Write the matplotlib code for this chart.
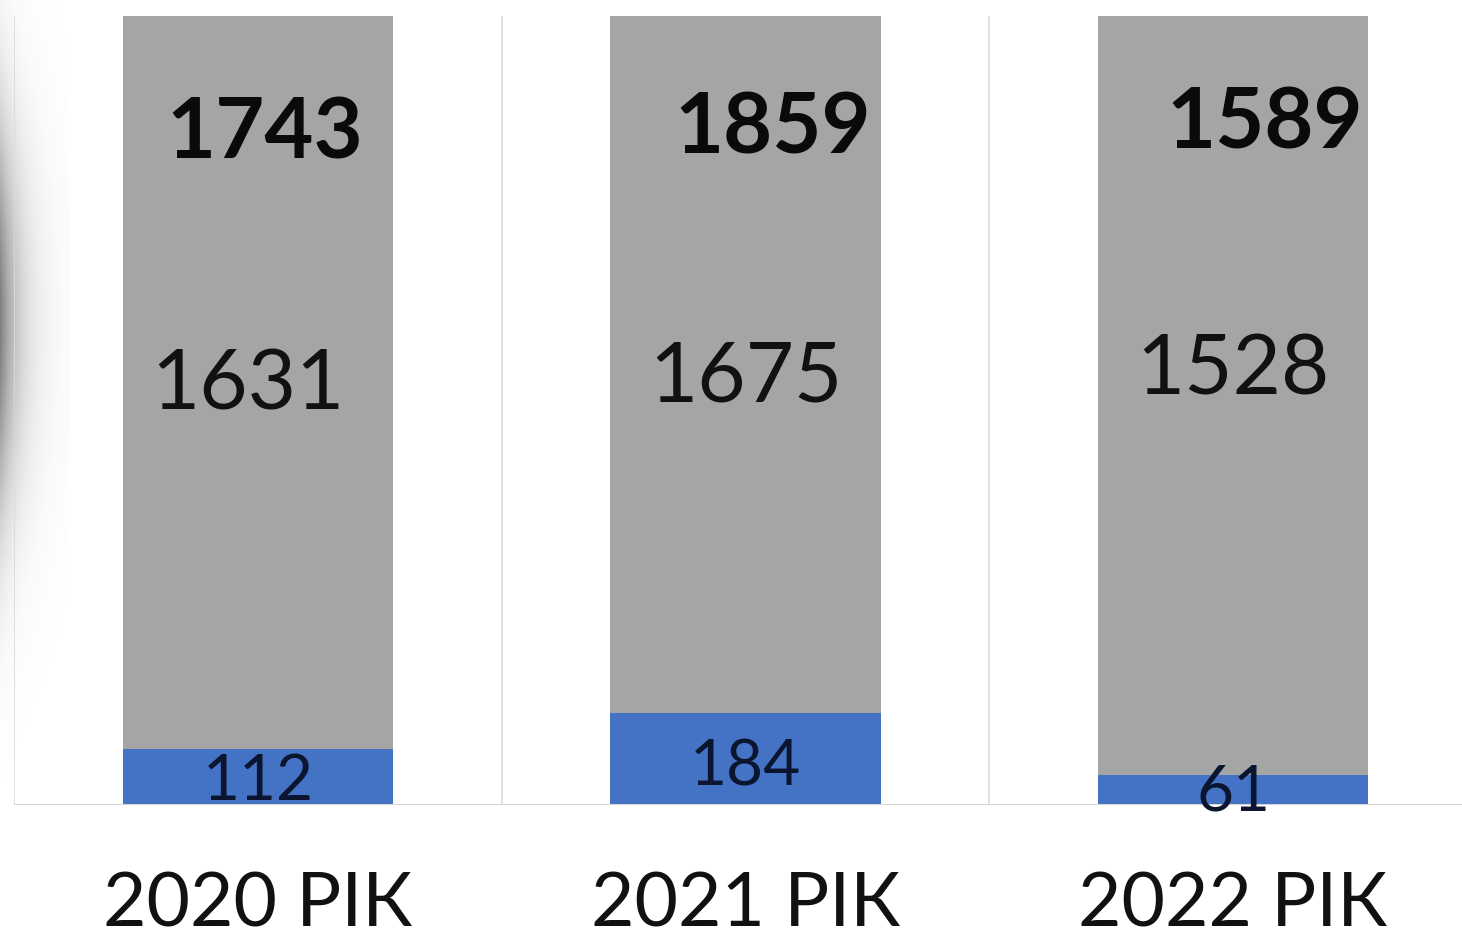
import numpy as np
import matplotlib
matplotlib.use("Agg")
import matplotlib.pyplot as plt

categories = ["2020 РІК", "2021 РІК", "2022 РІК"]
blue_values = [112, 184, 61]
gray_values = [1631, 1675, 1528]
totals = [1743, 1859, 1589]

plt.rcParams['font.family'] = ['Lato', 'Open Sans', 'DejaVu Sans']

W, H = 1462, 942
fig = plt.figure(figsize=(W / 100, H / 100), dpi=100)
fig.patch.set_facecolor('white')

def fx(px):
    return px / W

def fy(py):
    return 1 - py / H

# photo shadow on the left edge (decoration)
sh = fig.add_axes([0, 0, fx(70), 1], zorder=0)
xs = np.linspace(0, 70, 70)
ys = np.linspace(0, H, 300)
X, Y = np.meshgrid(xs, ys)
inten = np.exp(-X / 20.0) * np.exp(-((Y - 320) / 200.0) ** 2)
rgba = np.zeros(X.shape + (4,))
rgba[..., :3] = 0.38
rgba[..., 3] = np.clip(inten * 0.8, 0, 1)
sh.imshow(rgba, aspect='auto', extent=[0, 1, 0, 1], origin='upper')
sh.axis('off')

left_px, right_px = 14, 1477
base_px, top_px = 805, 16
ax = fig.add_axes([fx(left_px), fy(base_px), (right_px - left_px) / W, (base_px - top_px) / H], zorder=1)
ax.patch.set_alpha(0)

x = np.arange(len(categories))
bw = 0.555
ax.bar(x, blue_values, width=bw, color='#4472C4', zorder=2)
ax.bar(x, gray_values, width=bw, bottom=blue_values, color='#A5A5A5', zorder=2)

ax.set_xlim(-0.5, len(categories) - 0.5)
ax.set_ylim(0, 1580)

for b in np.arange(-0.5, len(categories), 1.0):
    ax.axvline(b, color='#DADADA', lw=1.2, zorder=1)
ax.axhline(0, color='#D4D4D4', lw=1.5, zorder=3)

for s in ax.spines.values():
    s.set_visible(False)
ax.set_yticks([])
ax.set_xticks(x)
ax.set_xticklabels(categories, fontsize=54, color='#111111')
ax.tick_params(axis='x', length=0, pad=47)

# label placement: (x offset in data units, y in axes fraction) -- style only
tot_pos = [(0.015, 0.85), (0.055, 0.857), (0.065, 0.863)]
gray_pos = [(-0.02, 0.53), (0.0, 0.54), (0.0, 0.55)]
blue_pos = [(0.0, 0.029), (0.0, 0.047), (0.0, 0.016)]
for i in range(len(categories)):
    ax.annotate(str(totals[i]), xy=(x[i] + tot_pos[i][0], tot_pos[i][1]),
                xycoords=('data', 'axes fraction'), ha='center', va='center',
                fontsize=61, fontweight='bold', color='#0A0A0A', zorder=4)
    ax.annotate(str(gray_values[i]), xy=(x[i] + gray_pos[i][0], gray_pos[i][1]),
                xycoords=('data', 'axes fraction'), ha='center', va='center',
                fontsize=60, color='#111111', zorder=4)
    ax.annotate(str(blue_values[i]), xy=(x[i] + blue_pos[i][0], blue_pos[i][1]),
                xycoords=('data', 'axes fraction'), ha='center', va='center',
                fontsize=46, color='#0B1530', zorder=4)

fig.savefig('out.png', dpi=100)
